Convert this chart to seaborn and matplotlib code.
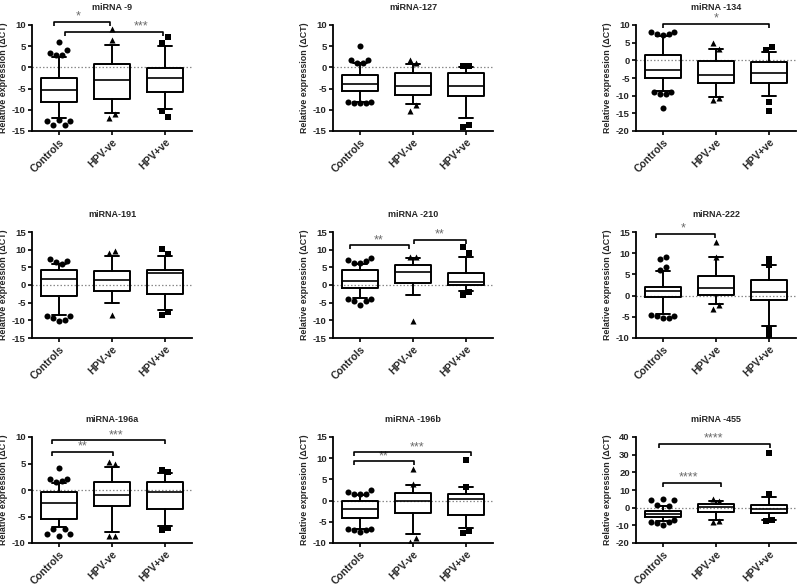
import matplotlib
matplotlib.use("Agg")
import matplotlib.pyplot as plt
import seaborn as sns
import numpy as np

sns.set_theme(style="ticks")
plt.rcParams['font.family'] = ['Liberation Sans', 'DejaVu Sans']
plt.rcParams['font.weight'] = 'bold'
plt.rcParams['axes.unicode_minus'] = False

groups = ["Controls", "HPV-ve", "HPV+ve"]
markers = ["o", "^", "s"]

# ---------------- data ----------------
# outliers are listed left-to-right as they appear inside each cluster
mir9_whislo = [-11.9, -10.7, -9.8]
mir9_q1 = [-8.1, -7.45, -5.7]
mir9_med = [-5.3, -3.0, -2.4]
mir9_q3 = [-2.4, 0.8, -0.2]
mir9_whishi = [2.5, 5.4, 5.0]
mir9_out = [[6.1, 3.5, 2.9, 2.9, 4.1, -12.6, -13.7, -12.4, -13.7, -12.6],
            [9.0, 6.5, -12.0, -11.0],
            [5.7, 7.1, -10.4, -11.8]]

mir127_whislo = [-8.1, -8.7, -11.9]
mir127_q1 = [-5.6, -6.4, -6.7]
mir127_med = [-3.8, -4.5, -4.4]
mir127_q3 = [-1.8, -1.4, -1.4]
mir127_whishi = [1.0, 0.7, 0.2]
mir127_out = [[5.1, 1.7, 1.1, 1.1, 1.7, -8.1, -8.5, -8.5, -8.5, -8.1],
              [1.7, 1.0, -10.3, -8.9],
              [0.4, 0.4, -14.0, -13.6]]

mir134_whislo = [-8.6, -10.3, -10.0]
mir134_q1 = [-5.1, -6.3, -6.5]
mir134_med = [-2.6, -4.2, -3.7]
mir134_q3 = [1.4, -0.1, -0.4]
mir134_whishi = [7.0, 3.3, 2.5]
mir134_out = [[8.1, 7.5, 7.2, 7.5, 8.1, -8.9, -9.4, -9.4, -8.9, -13.6],
              [4.9, 3.2, -11.2, -10.6],
              [2.8, 3.8, -11.7, -14.2]]

mir191_whislo = [-8.4, -5.1, -7.0]
mir191_q1 = [-3.2, -1.6, -2.5]
mir191_med = [1.7, 1.3, 3.4]
mir191_q3 = [4.15, 3.9, 4.3]
mir191_whishi = [5.9, 8.3, 8.3]
mir191_out = [[7.4, 6.4, 5.9, 6.7, -8.9, -9.4, -10.3, -9.8, -8.9],
              [9.1, 9.7, -8.4],
              [10.3, 8.9, -8.4, -7.7]]

mir210_whislo = [-3.75, -2.8, -1.6]
mir210_q1 = [-0.8, 0.6, 0.0]
mir210_med = [1.2, 3.75, 0.9]
mir210_q3 = [4.3, 5.6, 3.3]
mir210_whishi = [5.9, 7.6, 8.0]
mir210_out = [[7.0, 6.1, 6.1, 6.7, 7.6, -4.1, -4.4, -5.8, -4.4, -4.1],
              [8.0, 8.0, -10.2],
              [10.8, 9.0, -2.7, -1.9]]

mir222_whislo = [-4.3, -1.9, -7.25]
mir222_q1 = [-0.4, 0.1, -1.1]
mir222_med = [1.0, 1.8, 0.85]
mir222_q3 = [2.0, 4.6, 3.75]
mir222_whishi = [5.7, 9.1, 7.1]
mir222_out = [[8.7, 9.1, 6.1, 6.7, -4.5, -4.9, -5.4, -5.4, -4.9],
              [12.6, 9.1, -3.1, -2.1],
              [8.7, 7.1, -7.8, -9.4]]

mir196a_whislo = [-6.9, -8.0, -6.7]
mir196a_q1 = [-5.4, -3.0, -3.6]
mir196a_med = [-2.5, -0.9, -0.4]
mir196a_q3 = [-0.4, 1.6, 1.6]
mir196a_whishi = [1.25, 4.25, 3.25]
mir196a_out = [[4.2, 2.0, 1.6, 1.75, 2.0, -8.25, -7.4, -8.75, -7.4, -8.25],
               [5.3, 4.9, -8.6, -8.6],
               [3.75, 3.4, -7.5, -7.2]]

mir196b_whislo = [-6.6, -7.8, -6.4]
mir196b_q1 = [-4.1, -3.0, -3.35]
mir196b_med = [-2.05, -0.1, 0.3]
mir196b_q3 = [-0.1, 1.8, 1.5]
mir196b_whishi = [1.3, 3.7, 3.3]
mir196b_out = [[2.0, 1.45, 1.45, 1.6, 2.5, -6.6, -6.9, -7.3, -6.9, -6.6],
               [7.35, 4.0, -9.85, -8.85],
               [9.65, 3.15, -7.7, -7.2]]

mir455_whislo = [-7.5, -6.8, -6.8]
mir455_q1 = [-5.3, -2.5, -3.0]
mir455_med = [-3.8, 0.4, -0.9]
mir455_q3 = [-1.9, 2.3, 1.3]
mir455_whishi = [0.75, 3.6, 6.0]
mir455_out = [[4.5, 1.3, 5.1, 0.9, 4.2, -8.1, -8.7, -10.0, -8.1, -7.2],
              [5.1, 3.6, -8.1, -7.7],
              [30.9, 7.9, -7.5, -7.2]]

titles = ["miRNA -9", "miRNA-127", "miRNA -134",
          "miRNA-191", "miRNA -210", "miRNA-222",
          "miRNA-196a", "miRNA -196b", "miRNA -455"]

# significance brackets: (x_start, x_end, y, label, label_x)
mir9_sig = [(-0.08, 0.96, 10.8, "*", 0.36), (0.11, 1.95, 8.4, "***", 1.54)]
mir134_sig = [(0.0, 2.0, 10.3, "*", 1.0)]
mir210_sig = [(-0.19, 0.93, 11.25, "**", 0.36), (1.02, 2.0, 12.75, "**", 1.5)]
mir222_sig = [(-0.13, 0.98, 14.6, "*", 0.39)]
mir196a_sig = [(-0.13, 1.02, 7.2, "**", 0.45), (-0.13, 2.0, 9.4, "***", 1.08)]
mir196b_sig = [(-0.1, 1.01, 9.3, "**", 0.44), (-0.1, 2.09, 11.4, "***", 1.08)]
mir455_sig = [(0.0, 1.1, 14.2, "****", 0.49), (-0.06, 2.02, 36.2, "****", 0.96)]

panels = [
    (mir9_whislo, mir9_q1, mir9_med, mir9_q3, mir9_whishi, mir9_out, mir9_sig, (-15, 10, 5)),
    (mir127_whislo, mir127_q1, mir127_med, mir127_q3, mir127_whishi, mir127_out, [], (-15, 10, 5)),
    (mir134_whislo, mir134_q1, mir134_med, mir134_q3, mir134_whishi, mir134_out, mir134_sig, (-20, 10, 5)),
    (mir191_whislo, mir191_q1, mir191_med, mir191_q3, mir191_whishi, mir191_out, [], (-15, 15, 5)),
    (mir210_whislo, mir210_q1, mir210_med, mir210_q3, mir210_whishi, mir210_out, mir210_sig, (-15, 15, 5)),
    (mir222_whislo, mir222_q1, mir222_med, mir222_q3, mir222_whishi, mir222_out, mir222_sig, (-10, 15, 5)),
    (mir196a_whislo, mir196a_q1, mir196a_med, mir196a_q3, mir196a_whishi, mir196a_out, mir196a_sig, (-10, 10, 5)),
    (mir196b_whislo, mir196b_q1, mir196b_med, mir196b_q3, mir196b_whishi, mir196b_out, mir196b_sig, (-10, 15, 5)),
    (mir455_whislo, mir455_q1, mir455_med, mir455_q3, mir455_whishi, mir455_out, mir455_sig, (-20, 40, 10)),
]

# ---------------- layout ----------------
W, H = 800, 588
fig = plt.figure(figsize=(8.0, 5.88), dpi=100)
col_left = [32, 333, 636]
row_top = [25, 232, 437]
ax_w, ax_h = 160, 106


def spread_positions(vals, center, px_per_unit, thresh=6.5, sp=0.11):
    """Spread points that would overlap into a horizontal row (GraphPad style)."""
    idx = sorted(range(len(vals)), key=lambda j: vals[j])
    clusters, cur = [], [idx[0]]
    for a, b in zip(idx, idx[1:]):
        if (vals[b] - vals[a]) * px_per_unit < thresh:
            cur.append(b)
        else:
            clusters.append(cur)
            cur = [b]
    clusters.append(cur)
    xs = [center] * len(vals)
    for cl in clusters:
        cl = sorted(cl)
        n = len(cl)
        for m, j in enumerate(cl):
            xs[j] = center + (m - (n - 1) / 2) * sp
    return xs


for i, (lo, q1, med, q3, hi, outs, sigs, (ymin, ymax, step)) in enumerate(panels):
    r, c = divmod(i, 3)
    ax = fig.add_axes([col_left[c] / W, 1 - (row_top[r] + ax_h) / H, ax_w / W, ax_h / H])

    ax.axhline(0, color="#8a8a8a", lw=0.9, ls=(0, (1.2, 1.6)), zorder=1)

    stats = [dict(med=med[k], q1=q1[k], q3=q3[k], whislo=lo[k], whishi=hi[k], fliers=[])
             for k in range(3)]
    lw = 1.4
    ax.bxp(stats, positions=[0, 1, 2], widths=0.68, capwidths=0.26,
           showfliers=False, manage_ticks=False, patch_artist=False,
           boxprops=dict(color="black", linewidth=lw),
           medianprops=dict(color="black", linewidth=1.2),
           whiskerprops=dict(color="black", linewidth=lw),
           capprops=dict(color="black", linewidth=lw))

    ppu = ax_h / (ymax - ymin)
    for k in range(3):
        xs = spread_positions(outs[k], k, ppu)
        sns.scatterplot(x=xs, y=outs[k], ax=ax, marker=markers[k], color="black",
                        s=19 if k != 2 else 16, linewidth=0, zorder=4, legend=False)

    ax.set_xlim(-0.5, 2.5)
    ax.set_ylim(ymin, ymax)
    ticks = np.arange(ymin, ymax + step / 2, step)
    ax.set_yticks(ticks)
    ax.set_yticklabels([str(int(v)) for v in ticks], fontsize=6.8, fontweight="bold")
    ax.set_xticks([0, 1, 2])
    ax.set_xticklabels(groups, rotation=45, ha="right", rotation_mode="anchor",
                       fontsize=7.5, fontweight="bold")
    ax.set_xlabel("")
    ax.set_ylabel("Relative expression (ΔCT)", fontsize=6.4, fontweight="bold")
    ax.yaxis.set_label_coords(-0.152, 0.5)
    ax.set_title(titles[i], fontsize=6.5, fontweight="bold", pad=11)
    sns.despine(ax=ax)
    for sp in ["left", "bottom"]:
        ax.spines[sp].set_linewidth(1.3)
        ax.spines[sp].set_color("black")
    ax.tick_params(axis="both", length=3, width=1.2, color="black", pad=1.5)
    ax.set_facecolor("white")

    drop = 4.0 * (ymax - ymin) / ax_h
    for (x1, x2, yb, lab, lx) in sigs:
        ax.plot([x1, x1, x2, x2], [yb - drop, yb, yb, yb - drop], color="black",
                lw=1.2, clip_on=False, zorder=5, solid_capstyle="butt")
        ax.annotate(lab, (lx, yb), xytext=(0, 1.5), textcoords="offset points",
                    ha="center", va="baseline", fontsize=9, color="#6a6a6a",
                    fontweight="normal", annotation_clip=False)

fig.savefig("out.png", dpi=100, facecolor="white")
